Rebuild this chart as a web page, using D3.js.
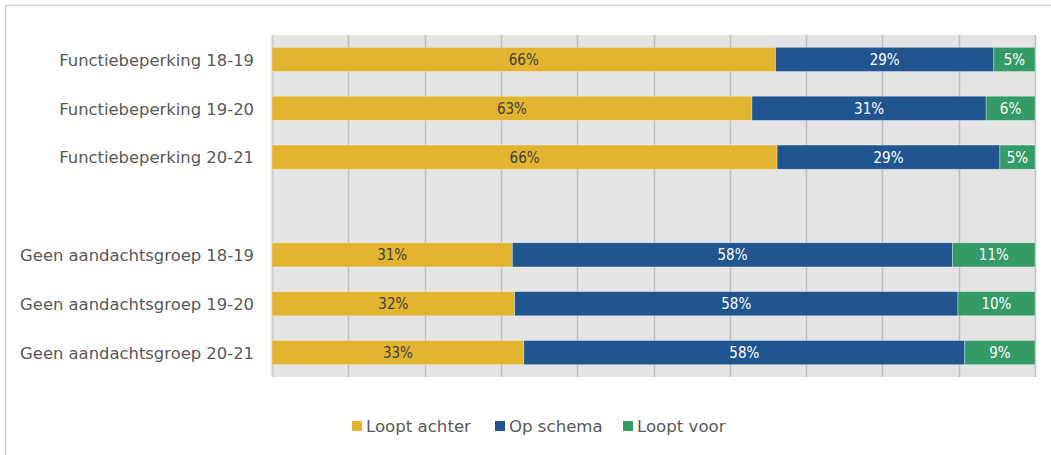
<!DOCTYPE html>
<html><head><meta charset="utf-8">
<script src="https://cdn.jsdelivr.net/npm/d3@7"></script>
<style>html,body{margin:0;padding:0;background:#fff;}svg{display:block;}</style>
</head><body>
<svg id="c" width="1051" height="455"></svg>
<script>
const categories = ["Functiebeperking 18-19","Functiebeperking 19-20","Functiebeperking 20-21","","Geen aandachtsgroep 18-19","Geen aandachtsgroep 19-20","Geen aandachtsgroep 20-21"];
const seriesNames = ["Loopt achter","Op schema","Loopt voor"];
const looptAchter = [66.0, 62.9, 66.2, null, 31.5, 31.8, 33.0];
const opSchema    = [28.6, 30.7, 29.2, null, 57.7, 58.1, 57.8];
const looptVoor   = [5.4, 6.4, 4.6, null, 10.8, 10.1, 9.2];
const labelsAchter = ["66%","63%","66%","","31%","32%","33%"];
const labelsSchema = ["29%","31%","29%","","58%","58%","58%"];
const labelsVoor   = ["5%","6%","5%","","11%","10%","9%"];
const colors = ["#E3B42F","#21558F","#349A68"];
const textColors = ["#404040","#ffffff","#ffffff"];
const ticks = [0,10,20,30,40,50,60,70,80,90,100];

const svg = d3.select("#c");
const font = "'DejaVu Sans', sans-serif";
const narrow = "'Liberation Sans Narrow', 'DejaVu Sans Condensed', sans-serif";
svg.append("rect").attr("x",5.5).attr("y",5.5).attr("width",1060).attr("height",460)
  .attr("fill","#fff").attr("stroke","#d0d0d0").attr("stroke-width",1.5);

const x = d3.scaleLinear().domain([0,100]).range([272,1035]);
const y = d3.scaleBand().domain(categories.map((c,i)=>i)).range([35,377]).paddingInner(0.505).paddingOuter(0.2525);

svg.append("rect").attr("x",x(0)).attr("y",35).attr("width",x(100)-x(0)).attr("height",342).attr("fill","#E4E4E4");
svg.append("g").selectAll("line").data(ticks).join("line")
  .attr("x1",d=>Math.round(x(d))+0.5).attr("x2",d=>Math.round(x(d))+0.5).attr("y1",35).attr("y2",377)
  .attr("stroke",d=>d===0?"#cccccc":"#bdbdbd").attr("stroke-width",d=>d===0?2:1.5);

const series = [looptAchter, opSchema, looptVoor];
const labels = [labelsAchter, labelsSchema, labelsVoor];
categories.forEach((cat,i)=>{
  if(series[0][i]==null) return;
  let acc = 0;
  series.forEach((s,k)=>{
    const v = s[i];
    const x0 = x(acc), x1 = x(acc+v);
    svg.append("rect").attr("x",x0).attr("y",y(i)).attr("width",x1-x0).attr("height",y.bandwidth())
      .attr("fill",colors[k]).attr("stroke","#ffffff").attr("stroke-opacity",0.45).attr("stroke-width",0.75);
    svg.append("text").attr("x",(x0+x1)/2).attr("y",y(i)+y.bandwidth()/2+5.5)
      .attr("text-anchor","middle").attr("font-family",narrow).attr("font-size",15)
      .attr("fill",textColors[k]).text(labels[k][i]);
    acc += v;
  });
  svg.append("text").attr("x",254).attr("y",y(i)+y.bandwidth()/2+6.3)
    .attr("text-anchor","end").attr("font-family",font).attr("font-size",16.4).attr("fill","#595959").text(cat);
});

const legX = [352, 495, 623];
seriesNames.forEach((n,k)=>{
  svg.append("rect").attr("x",legX[k]).attr("y",421).attr("width",10).attr("height",10).attr("fill",colors[k]);
  svg.append("text").attr("x",legX[k]+14).attr("y",432).attr("font-family",font).attr("font-size",16.6)
    .attr("fill","#595959").text(n);
});
</script>
</body></html>
